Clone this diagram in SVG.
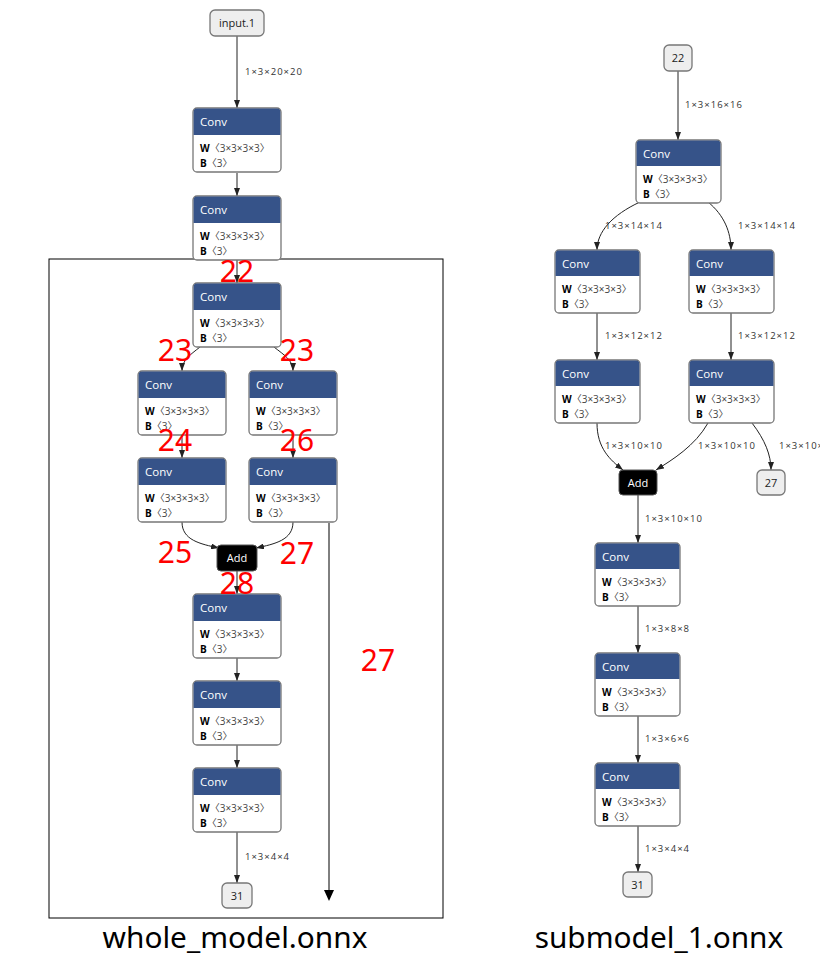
<svg xmlns="http://www.w3.org/2000/svg" width="820" height="969" viewBox="0 0 820 969">
<defs>
<style>
.box{fill:#fff;stroke:#777;stroke-width:1.3}
.hdr{fill:#365389}
.ttl{font-family:"Open Sans","Noto Sans",sans-serif;font-size:11.5px;fill:#fff}
.att{font-family:"Open Sans","Noto Sans","Noto Sans CJK SC",sans-serif;font-size:10px;fill:#444}
.attb{font-weight:bold;fill:#000}
.io{fill:#eee;stroke:#777;stroke-width:1.3}
.iot{font-family:"Open Sans","Noto Sans",sans-serif;font-size:11px;fill:#222;text-anchor:middle}
.add{fill:#000;stroke:#555;stroke-width:1}
.addt{font-family:"Open Sans","Noto Sans",sans-serif;font-size:11px;fill:#fff;text-anchor:middle}
.e{fill:none;stroke:#222;stroke-width:1;marker-end:url(#ah)}
.el{font-family:"Open Sans","Noto Sans",sans-serif;font-size:9.5px;letter-spacing:1px;fill:#333}
.red{font-family:"Noto Sans","Liberation Sans",sans-serif;font-size:30px;fill:#f00;text-anchor:middle}
.cap{font-family:"Noto Sans","Liberation Sans",sans-serif;font-size:29.8px;fill:#000;text-anchor:middle}
</style>
<marker id="ah" viewBox="0 0 8 6" refX="8" refY="3" markerWidth="8" markerHeight="6" markerUnits="userSpaceOnUse" orient="auto">
<path d="M0,0 L8,3 L0,6 z" fill="#222"/>
</marker>
<g id="convL">
<rect class="box" x="0" y="0" width="88" height="64" rx="4"/>
<path class="hdr" d="M0.6,4 a3.4,3.4 0 0 1 3.4,-3.4 h80 a3.4,3.4 0 0 1 3.4,3.4 v23 h-86.8 z"/>
<text class="ttl" x="7" y="18">Conv</text>
<text class="att" x="7" y="44"><tspan class="attb">W</tspan>〈3×3×3×3〉</text>
<text class="att" x="7" y="59"><tspan class="attb">B</tspan>〈3〉</text>
</g>
<g id="convR">
<rect class="box" x="0" y="0" width="85" height="63" rx="4"/>
<path class="hdr" d="M0.6,4 a3.4,3.4 0 0 1 3.4,-3.4 h77 a3.4,3.4 0 0 1 3.4,3.4 v22 h-83.8 z"/>
<text class="ttl" x="7" y="18">Conv</text>
<text class="att" x="7" y="43"><tspan class="attb">W</tspan>〈3×3×3×3〉</text>
<text class="att" x="7" y="58"><tspan class="attb">B</tspan>〈3〉</text>
</g>
</defs>
<rect width="820" height="969" fill="#fff"/>

<rect id="frame" x="49" y="259" width="394" height="659" fill="none" stroke="#000" stroke-width="1"/>

<g id="edges">
<line class="e" x1="237" y1="36" x2="237" y2="108"/>
<line class="e" x1="237" y1="173" x2="237" y2="196"/>
<line class="e" x1="237" y1="260" x2="237" y2="283"/>
<path class="e" d="M200,347 C190,355 182,360 182,371"/>
<path class="e" d="M274,347 C284,355 293,360 293,371"/>
<line class="e" x1="182" y1="435" x2="182" y2="458"/>
<line class="e" x1="293" y1="435" x2="293" y2="458"/>
<path class="e" d="M182,522 C182,540 200,544 219,548"/>
<path class="e" d="M293,522 C293,540 275,544 256,548"/>
<line class="e" x1="237" y1="571" x2="237" y2="594"/>
<line class="e" x1="237" y1="658" x2="237" y2="681"/>
<line class="e" x1="237" y1="745" x2="237" y2="768"/>
<line class="e" x1="237" y1="832" x2="237" y2="883"/>
<line x1="329" y1="523" x2="329" y2="891" stroke="#000" stroke-width="1"/>
<polygon points="324,890 334,890 329,901" fill="#000"/>

<line class="e" x1="678" y1="71" x2="678" y2="140"/>
<path class="e" d="M640,202 C612,215 597,232 597,250"/>
<path class="e" d="M708,202 C724,215 731,232 731,250"/>
<line class="e" x1="597" y1="313" x2="597" y2="360"/>
<line class="e" x1="731" y1="313" x2="731" y2="360"/>
<path class="e" d="M597,423 C597,448 610,460 623,470"/>
<path class="e" d="M708,423 C695,446 672,460 656,470"/>
<path class="e" d="M752,423 C765,440 771,455 771,470"/>
<line class="e" x1="638" y1="495" x2="638" y2="543"/>
<line class="e" x1="638" y1="606" x2="638" y2="653"/>
<line class="e" x1="638" y1="716" x2="638" y2="763"/>
<line class="e" x1="638" y1="826" x2="638" y2="872"/>
</g>

<g id="edge-labels">
<text class="el" x="245" y="75">1×3×20×20</text>
<text class="el" x="245" y="860">1×3×4×4</text>
<text class="el" x="685" y="108">1×3×16×16</text>
<text class="el" x="605" y="229">1×3×14×14</text>
<text class="el" x="738" y="229">1×3×14×14</text>
<text class="el" x="605" y="339">1×3×12×12</text>
<text class="el" x="738" y="339">1×3×12×12</text>
<text class="el" x="605" y="449">1×3×10×10</text>
<text class="el" x="698" y="449">1×3×10×10</text>
<text class="el" x="779" y="449">1×3×10×10</text>
<text class="el" x="645" y="522">1×3×10×10</text>
<text class="el" x="645" y="632">1×3×8×8</text>
<text class="el" x="645" y="742">1×3×6×6</text>
<text class="el" x="645" y="852">1×3×4×4</text>
</g>

<g id="n-input"><rect class="io" x="210" y="10" width="54" height="26" rx="5"/><text class="iot" x="237" y="27">input.1</text></g>
<g id="n-c1"><use href="#convL" x="193" y="108"/></g>
<g id="n-c2"><use href="#convL" x="193" y="196"/></g>
<g id="n-c3"><use href="#convL" x="193" y="283"/></g>
<g id="n-c4"><use href="#convL" x="138" y="371"/></g>
<g id="n-c5"><use href="#convL" x="249" y="371"/></g>
<g id="n-c6"><use href="#convL" x="138" y="458"/></g>
<g id="n-c7"><use href="#convL" x="249" y="458"/></g>
<g id="n-add"><rect class="add" x="217" y="545" width="40" height="26" rx="4"/><text class="addt" x="237" y="562">Add</text></g>
<g id="n-c8"><use href="#convL" x="193" y="594"/></g>
<g id="n-c9"><use href="#convL" x="193" y="681"/></g>
<g id="n-c10"><use href="#convL" x="193" y="768"/></g>
<g id="n-out31"><rect class="io" x="222" y="883" width="30" height="25" rx="5"/><text class="iot" x="237" y="900">31</text></g>

<g id="red-labels">
<text class="red" x="237" y="282">22</text>
<text class="red" x="175" y="361">23</text>
<text class="red" x="297" y="361">23</text>
<text class="red" x="175" y="451">24</text>
<text class="red" x="297" y="451">26</text>
<text class="red" x="175" y="563">25</text>
<text class="red" x="297" y="564">27</text>
<text class="red" x="237" y="594">28</text>
<text class="red" x="378" y="671">27</text>
</g>

<g id="s-in22"><rect class="io" x="664" y="45" width="28" height="26" rx="5"/><text class="iot" x="678" y="62">22</text></g>
<g id="s-c1"><use href="#convR" x="636" y="140"/></g>
<g id="s-c2"><use href="#convR" x="555" y="250"/></g>
<g id="s-c3"><use href="#convR" x="689" y="250"/></g>
<g id="s-c4"><use href="#convR" x="555" y="360"/></g>
<g id="s-c5"><use href="#convR" x="689" y="360"/></g>
<g id="s-add"><rect class="add" x="619" y="470" width="38" height="25" rx="4"/><text class="addt" x="638" y="487">Add</text></g>
<g id="s-out27"><rect class="io" x="757" y="470" width="28" height="25" rx="5"/><text class="iot" x="771" y="487">27</text></g>
<g id="s-c6"><use href="#convR" x="595" y="543"/></g>
<g id="s-c7"><use href="#convR" x="595" y="653"/></g>
<g id="s-c8"><use href="#convR" x="595" y="763"/></g>
<g id="s-out31"><rect class="io" x="623" y="872" width="29" height="25" rx="5"/><text class="iot" x="637.5" y="889">31</text></g>

<text class="cap" x="235" y="948">whole_model.onnx</text>
<text class="cap" x="659" y="948">submodel_1.onnx</text>
</svg>
